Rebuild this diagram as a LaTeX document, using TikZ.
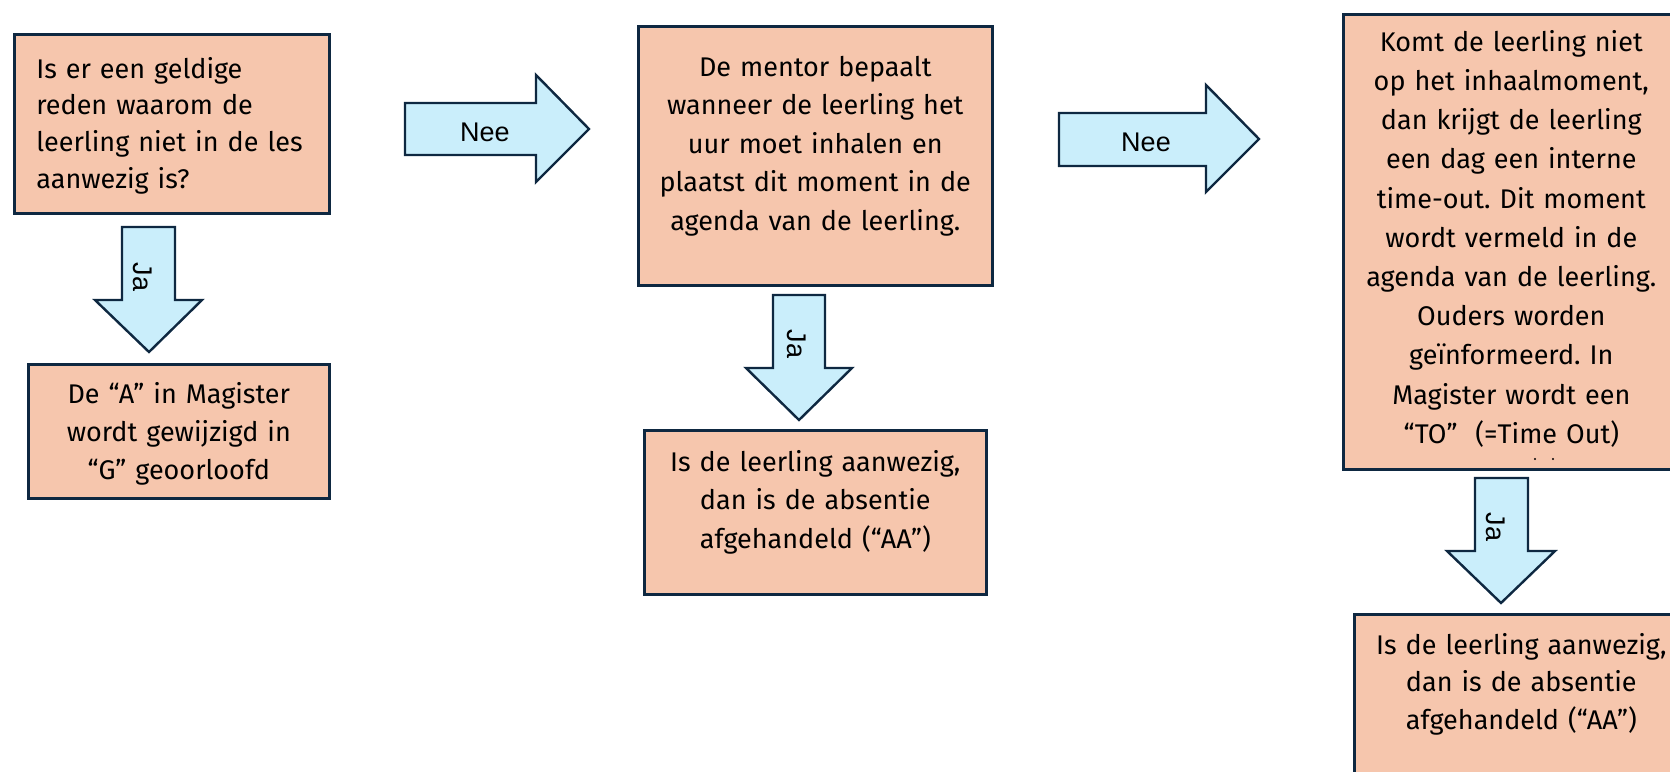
\documentclass[tikz,border=0pt]{standalone}
\usepackage{fontspec}
\setmainfont{Fira Sans}
\newfontfamily\labelfont{Liberation Sans}
\frenchspacing
\definecolor{boxfill}{HTML}{F6C6AD}
\definecolor{boxline}{HTML}{0E2841}
\definecolor{arrowfill}{HTML}{CAEEFB}
\tikzset{
  box/.style={draw=boxline, fill=boxfill, line width=1.3pt, anchor=north west,
    inner ysep=0pt, inner xsep=5pt, align=center, font=\fontsize{13.5}{19.25}\selectfont},
  blockarrow/.style={draw=boxline, fill=arrowfill, line width=1.2pt, line join=miter},
  arrowlabel/.style={font=\labelfont\fontsize{13.5}{15}\selectfont, inner sep=0pt}
}
\begin{document}
\begin{tikzpicture}[x=0.5pt, y=-0.5pt]
\useasboundingbox (0,0) rectangle (1670,771);
\clip (0,0) rectangle (1670,771);

\node[box, align=left, inner xsep=11pt, text width=135.5pt, text height=22pt, text depth=67.5pt,
  font=\fontsize{13.5}{18.35}\selectfont] (vraag) at (13,33)
  {Is er een geldige\\reden waarom de\\leerling niet in de les\\aanwezig is?};
\node[box, text width=140.5pt, text height=19.5pt, text depth=47.5pt,
  font=\fontsize{13.5}{19}\selectfont] (geoorloofd) at (27,363)
  {De “A” in Magister\\wordt gewijzigd in\\“G” geoorloofd};
\node[box, text width=167pt, text height=25pt, text depth=104.5pt] (mentor) at (637,25)
  {De mentor bepaalt\\wanneer de leerling het\\uur moet inhalen en\\plaatst dit moment in de\\agenda van de leerling.};
\node[box, text width=161pt, text height=20.5pt, text depth=61.5pt] (aanwezig) at (643,429)
  {Is de leerling aanwezig,\\dan is de absentie\\afgehandeld (“AA”)};
\node[box, text width=158pt, text height=18.5pt, text depth=209pt,
  font=\fontsize{13.5}{19.6}\selectfont] (timeout) at (1342,13)
  {Komt de leerling niet\\op het inhaalmoment,\\dan krijgt de leerling\\een dag een interne\\time-out. Dit moment\\wordt vermeld in de\\agenda van de leerling.\\Ouders worden\\geïnformeerd. In\\Magister wordt een\\“TO”\ \ (=Time Out)};
\node[box, text width=157pt, text height=20pt, text depth=73.5pt,
  font=\fontsize{13.5}{18.75}\selectfont] (aanwezigto) at (1353,613)
  {Is de leerling aanwezig,\\dan is de absentie\\afgehandeld (“AA”)};
\fill[black] (1535,459) circle (1.2);
\fill[black] (1553,459) circle (1.2);

\coordinate (nee1) at (405,103);
\coordinate (nee2) at (1059,113);
\coordinate (ja1) at (122,227);
\coordinate (ja2) at (773,295);
\coordinate (ja3) at (1475,478);
\draw[blockarrow] (nee1) -- ++(131,0) -- ++(0,-28) -- ++(53,54) -- ++(-53,53) -- ++(0,-27) -- ++(-131,0) -- cycle;
\draw[blockarrow] (nee2) -- ++(147,0) -- ++(0,-28) -- ++(53,54) -- ++(-53,53) -- ++(0,-26) -- ++(-147,0) -- cycle;
\draw[blockarrow] (ja1) -- ++(0,73) -- ++(-27,0) -- ++(54,52) -- ++(53,-52) -- ++(-27,0) -- ++(0,-73) -- cycle;
\draw[blockarrow] (ja2) -- ++(0,73) -- ++(-27,0) -- ++(53,52) -- ++(53,-52) -- ++(-27,0) -- ++(0,-73) -- cycle;
\draw[blockarrow] (ja3) -- ++(0,73) -- ++(-28,0) -- ++(54,52) -- ++(54,-52) -- ++(-27,0) -- ++(0,-73) -- cycle;
\node[arrowlabel, anchor=base] (neelabel1) at (485,141.7) {Nee};
\node[arrowlabel, anchor=base] (neelabel2) at (1146,151.7) {Nee};
\node[arrowlabel, rotate=-90] (jalabel1) at (143,277) {Ja};
\node[arrowlabel, rotate=-90] (jalabel2) at (797,344) {Ja};
\node[arrowlabel, rotate=-90] (jalabel3) at (1496,527) {Ja};
\end{tikzpicture}
\end{document}
